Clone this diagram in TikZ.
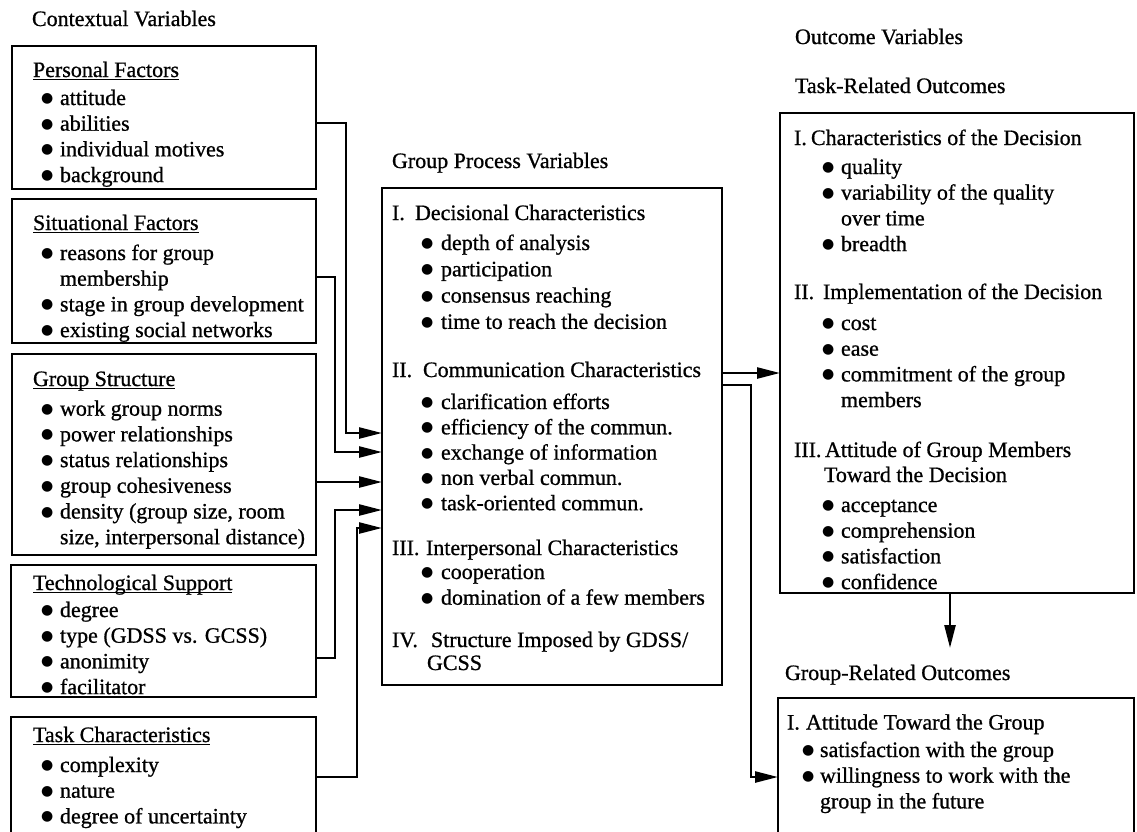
\documentclass[tikz,border=0pt]{standalone}
\usepackage{fontspec}
\setmainfont[FakeBold=0.8]{Liberation Serif}
\newfontfamily\symfont{DejaVu Sans}
\usetikzlibrary{arrows.meta}

% bullet lists inside the boxes
\newlength\bind
\newlength\bgap
\newcommand\bul{\raisebox{2.5pt}{\symfont\fontsize{14}{14}\selectfont ●}}
\newcommand\bi[1]{\hspace*{\bind}\makebox[\bgap][l]{\bul}#1}
\newcommand\bc[1]{\hspace*{\bind}\hspace*{\bgap}#1}
% underlined box heading
\newcommand\ulin[1]{\setbox0\hbox{#1}\rlap{\rule[-3pt]{\wd0}{1.3pt}}\box0}
% roman numeral in a fixed-width slot
\newcommand\rn[2]{\makebox[#1][l]{#2}}

\begin{document}
\begin{tikzpicture}[x=1pt,y=-1pt,
  frame/.style={draw, line width=2.5pt, inner sep=0pt, outer sep=0pt, anchor=north west},
  txt/.style={anchor=base west, inner sep=0pt, outer sep=0pt, font=\fontsize{22}{25.7}\selectfont},
  lefttxt/.style={txt, execute at begin node={\setlength\bind{8pt}\setlength\bgap{19pt}}},
  midtxt/.style={txt, execute at begin node={\setlength\bind{29pt}\setlength\bgap{20pt}}},
  righttxt/.style={txt, execute at begin node={\setlength\bind{28pt}\setlength\bgap{19pt}}},
  lowtxt/.style={txt, execute at begin node={\setlength\bind{15pt}\setlength\bgap{18pt}}},
  conn/.style={line width=2.5pt, -{Triangle[length=23pt,width=11pt]}}
]
\fill[white] (0,0) rectangle (1137,831);
\useasboundingbox (0,0) rectangle (1137,831);
\clip (0,0) rectangle (1137,831);

% ---------- column titles ----------
\node[txt] (ctitle) at (32,26) {Contextual Variables};
\node[txt] (gtitle) at (392,168) {Group Process Variables};
\node[txt] (otitle) at (795,44) {Outcome Variables};
\node[txt] (ttitle) at (795,93) {Task-Related Outcomes};
\node[txt] (grlab) at (785,680) {Group-Related Outcomes};

% ---------- contextual variables ----------
\node[frame, minimum width=304pt, minimum height=143pt] (pf) at (12,46) {};
\node[lefttxt] (pft) at (33,77) {\begin{tabular}[t]{@{}l@{}}
\ulin{Personal Factors}\\[2.3pt]
\bi{attitude}\\
\bi{abilities}\\
\bi{individual motives}\\
\bi{background}
\end{tabular}};

\node[frame, minimum width=304pt, minimum height=144pt] (sf) at (12,199) {};
\node[lefttxt] (sft) at (33,230) {\begin{tabular}[t]{@{}l@{}}
\ulin{Situational Factors}\\[4.3pt]
\bi{reasons for group}\\
\bc{membership}\\
\bi{stage in group development}\\
\bi{existing social networks}
\end{tabular}};

\node[frame, minimum width=304pt, minimum height=201pt] (gs) at (12,354) {};
\node[lefttxt] (gst) at (33,386) {\begin{tabular}[t]{@{}l@{}}
\ulin{Group Structure}\\[4pt]
\bi{work group norms}\\
\bi{power relationships}\\
\bi{status relationships}\\
\bi{group cohesiveness}\\
\bi{density (group size, room}\\
\bc{size, interpersonal distance)}
\end{tabular}};

\node[frame, minimum width=305pt, minimum height=132pt] (ts) at (11,565) {};
\node[lefttxt] (tst) at (33,590) {\begin{tabular}[t]{@{}l@{}}
\ulin{Technological Support}\\[1.3pt]
\bi{degree}\\
\bi{type (GDSS vs. GCSS)}\\
\bi{anonimity}\\
\bi{facilitator}
\end{tabular}};

\node[frame, minimum width=305pt, minimum height=135pt] (tc) at (11,717) {};
\node[lefttxt] (tct) at (33,742) {\begin{tabular}[t]{@{}l@{}}
\ulin{Task Characteristics}\\[4.3pt]
\bi{complexity}\\
\bi{nature}\\
\bi{degree of uncertainty}
\end{tabular}};

% ---------- group process variables ----------
\node[frame, minimum width=340pt, minimum height=497pt] (mid) at (382,188) {};
\node[midtxt] (m1) at (392,220) {\begin{tabular}[t]{@{}l@{}}
\rn{23pt}{I.}Decisional Characteristics\\[4.3pt]
\bi{depth of analysis}\\[0.6pt]
\bi{participation}\\[0.6pt]
\bi{consensus reaching}\\[0.6pt]
\bi{time to reach the decision}
\end{tabular}};
\node[midtxt] (m2) at (392,377) {\begin{tabular}[t]{@{}l@{}}
\rn{31pt}{II.}Communication Characteristics\\[6.3pt]
\bi{clarification efforts}\\[-0.4pt]
\bi{efficiency of the commun.}\\[-0.4pt]
\bi{exchange of information}\\[-0.4pt]
\bi{non verbal commun.}\\[-0.4pt]
\bi{task-oriented commun.}
\end{tabular}};
\node[midtxt] (m3) at (392,555) {\begin{tabular}[t]{@{}l@{}}
\rn{34pt}{III.}Interpersonal Characteristics\\[-1.7pt]
\bi{cooperation}\\
\bi{domination of a few members}
\end{tabular}};
\node[midtxt] (m4) at (392,647) {\begin{tabular}[t]{@{}l@{}}
\rn{39pt}{IV.}Structure Imposed by GDSS/\\[-2.7pt]
\hspace*{35pt}GCSS
\end{tabular}};

% ---------- outcome variables ----------
\node[frame, minimum width=354pt, minimum height=480pt] (ro) at (780,113) {};
\node[righttxt] (r1) at (794,145) {\begin{tabular}[t]{@{}l@{}}
\rn{17pt}{I.}Characteristics of the Decision\\[3.3pt]
\bi{quality}\\
\bi{variability of the quality}\\
\bc{over time}\\
\bi{breadth}
\end{tabular}};
\node[righttxt] (r2) at (794,299) {\begin{tabular}[t]{@{}l@{}}
\rn{29pt}{II.}Implementation of the Decision\\[5.3pt]
\bi{cost}\\
\bi{ease}\\
\bi{commitment of the group}\\
\bc{members}
\end{tabular}};
\node[righttxt] (r3) at (794,457) {\begin{tabular}[t]{@{}l@{}}
\rn{31pt}{III.}Attitude of Group Members\\[-0.7pt]
\hspace*{30pt}Toward the Decision\\[4.3pt]
\bi{acceptance}\\
\bi{comprehension}\\
\bi{satisfaction}\\
\bi{confidence}
\end{tabular}};

\node[frame, minimum width=356pt, minimum height=150pt] (go) at (778,698) {};
\node[lowtxt] (g1) at (787,729.5) {\begin{tabular}[t]{@{}l@{}}
\rn{19pt}{I.}Attitude Toward the Group\\[1.8pt]
\bi{satisfaction with the group}\\
\bi{willingness to work with the}\\
\bc{group in the future}
\end{tabular}};

% ---------- connectors ----------
\draw[conn] ([yshift=-77pt]pf.north east) -| ([xshift=-36pt,yshift=-245pt]mid.north west) -- ([yshift=-245pt]mid.north west);
\draw[conn] ([yshift=-78pt]sf.north east) -| ([xshift=-47pt,yshift=-264pt]mid.north west) -- ([yshift=-264pt]mid.north west);
\draw[conn] ([yshift=-128pt]gs.north east) -- ([yshift=-294pt]mid.north west);
\draw[conn] ([yshift=-93pt]ts.north east) -| ([xshift=-47pt,yshift=-322pt]mid.north west) -- ([yshift=-322pt]mid.north west);
\draw[conn] ([yshift=-60pt]tc.north east) -| ([xshift=-25pt,yshift=-340pt]mid.north west) -- ([yshift=-340pt]mid.north west);

\draw[conn] ([yshift=-185pt]mid.north east) -- ([yshift=-260pt]ro.north west);
\draw[conn] ([yshift=-197pt]mid.north east) -| ([xshift=-27pt,yshift=-79pt]go.north west) -- ([yshift=-79pt]go.north west);

\coordinate (dtip) at (950,648);
\draw[conn] (ro.south -| dtip) -- (dtip);
\end{tikzpicture}
\end{document}
